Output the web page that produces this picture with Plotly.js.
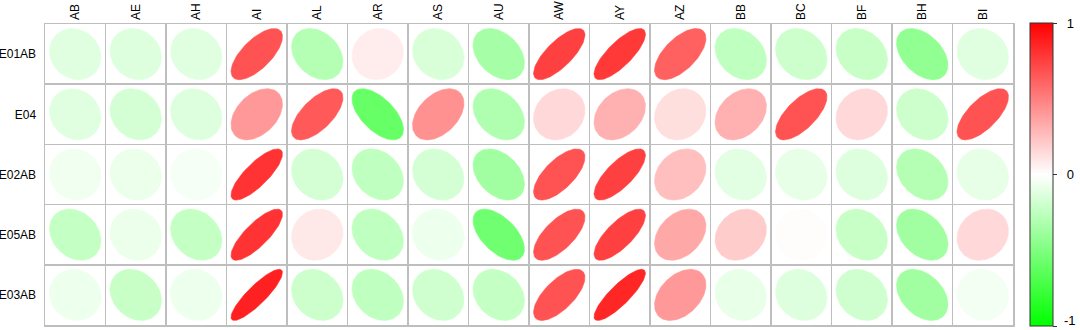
<!DOCTYPE html>
<html><head><meta charset="utf-8">
<script src="https://cdn.plot.ly/plotly-3.0.1.min.js"></script>
<style>body{margin:0;background:#fff}</style>
</head><body><div id="chart" style="width:1080px;height:330px"></div>
<script>
const columns = ["AB","AE","AH","AI","AL","AR","AS","AU","AW","AY","AZ","BB","BC","BF","BH","BI"];
const rowLabels = ["E01AB","E04","E02AB","E05AB","E03AB"];
const rE01AB = [-0.12,-0.13,-0.12,0.68,-0.29,0.07,-0.15,-0.35,0.75,0.78,0.62,-0.25,-0.20,-0.22,-0.43,-0.12];
const rE04   = [-0.12,-0.17,-0.13,0.40,0.65,-0.60,0.43,-0.31,0.15,0.31,0.13,0.31,0.68,0.15,-0.20,0.68];
const rE02AB = [-0.06,-0.08,-0.04,0.80,-0.17,-0.25,-0.17,-0.37,0.68,0.75,0.25,-0.11,-0.10,-0.13,-0.29,-0.10];
const rE05AB = [-0.23,-0.08,-0.23,0.80,0.09,-0.25,-0.07,-0.56,0.68,0.75,0.34,0.20,0.01,-0.22,-0.37,0.15];
const rE03AB = [-0.07,-0.22,-0.07,0.87,-0.20,-0.25,-0.19,-0.23,0.68,0.85,0.40,-0.09,-0.13,-0.19,-0.37,-0.05];
const matrix = [rE01AB, rE04, rE02AB, rE05AB, rE03AB];
const cbarTicks = [-1, 0, 1];
const cbarLabels = ["-1", "0", "1"];

function colorFor(r){
  if (r >= 0){ const g = Math.round(255*(1-r)); return `rgb(255,${g},${g})`; }
  const g = Math.round(255*(1+r)); return `rgb(${g},255,${g})`;
}

const traces = [];
const nR = rowLabels.length;
matrix.forEach((vals, i) => {
  const yc = nR - 1 - i;
  vals.forEach((rho, j) => {
    const a = Math.acos(rho);
    const xs = [], ys = [];
    const N = 99;
    for (let t = 0; t < N; t++){
      const k = 2*Math.PI*t/(N-1);
      xs.push(j + 0.85*Math.cos(k + a/2)/2);
      ys.push(yc + 0.85*Math.cos(k - a/2)/2);
    }
    const c = colorFor(rho);
    traces.push({type:'scatter', mode:'lines', x:xs, y:ys, fill:'toself', fillcolor:c,
      line:{color:c, width:0.6}, hoverinfo:'skip', showlegend:false});
  });
});

// colorbar carrier (bottom label "-1" drawn as annotation so it stays inside the page)
traces.push({type:'scatter', mode:'markers', x:[0], y:[0], hoverinfo:'skip', showlegend:false,
  marker:{size:0.1, opacity:0, color:[0], cmin:-1, cmax:1,
    colorscale:[[0,'#00FF00'],[0.5,'#FFFFFF'],[1,'#FF0000']], showscale:true,
    colorbar:{x:1.0175, xanchor:'left', xref:'paper', xpad:0, ypad:0, y:0.5, yanchor:'middle',
      thickness:23, thicknessmode:'pixels', len:303, lenmode:'pixels',
      outlinecolor:'#333', outlinewidth:1, tickvals:cbarTicks,
      ticktext:cbarLabels.map((s,i) => i === 0 ? '' : '\u00a0\u00a0' + s), ticklabeloverflow:'allow',
      ticks:'outside', ticklen:4, tickcolor:'#333', tickfont:{size:13, color:'#000'}}}});

const layout = {
  width:1080, height:330,
  margin:{l:45, r:65, t:24, b:5, pad:0},
  paper_bgcolor:'#fff', plot_bgcolor:'#fff',
  font:{family:'Liberation Sans, Arial, sans-serif', size:12, color:'#000'},
  annotations:[{text:cbarLabels[0], xref:'paper', yref:'paper', x:1.0515, y:-0.0135,
    xanchor:'left', yanchor:'bottom', showarrow:false, font:{size:13, color:'#000'}, borderpad:0}],
  xaxis:{range:[-0.5, columns.length-0.5], side:'top', tickmode:'array',
    tickvals:columns.map((_,j)=>j), ticktext:columns, tickangle:-90, ticks:'',
    showgrid:false, zeroline:false, showline:true, mirror:true, linecolor:'#bebebe', linewidth:1.5,
    minor:{tick0:0.5, dtick:1, showgrid:true, gridcolor:'#bebebe', gridwidth:1.5, ticks:''},
    fixedrange:true},
  yaxis:{range:[-0.5, nR-0.5], tickmode:'array', tickvals:rowLabels.map((_,i)=>nR-1-i), ticktext:rowLabels,
    ticks:'', ticklabelstandoff:5, showgrid:false, zeroline:false, showline:true, mirror:true, linecolor:'#bebebe', linewidth:1.5,
    minor:{tick0:0.5, dtick:1, showgrid:true, gridcolor:'#bebebe', gridwidth:1.5, ticks:''},
    fixedrange:true}
};
Plotly.newPlot('chart', traces, layout, {displayModeBar:false, staticPlot:true});
</script></body></html>
